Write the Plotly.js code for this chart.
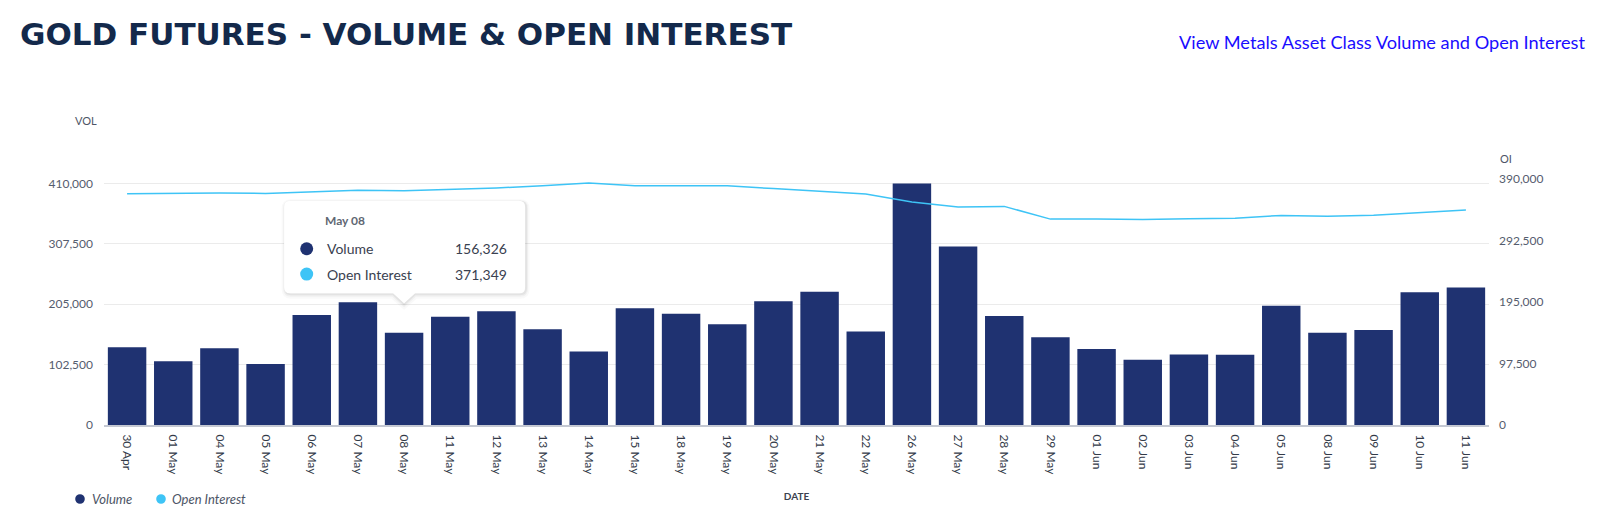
<!DOCTYPE html>
<html>
<head>
<meta charset="utf-8">
<script src="https://cdn.plot.ly/plotly-3.0.1.min.js"></script>
<style>
  html, body { margin: 0; padding: 0; background: #fff; }
</style>
</head>
<body>
<div id="myDiv"></div>

<script>
// trading days on the x axis
var dates = ['30 Apr', '01 May', '04 May', '05 May', '06 May', '07 May', '08 May', '11 May',
             '12 May', '13 May', '14 May', '15 May', '18 May', '19 May', '20 May', '21 May',
             '22 May', '26 May', '27 May', '28 May', '29 May', '01 Jun', '02 Jun', '03 Jun',
             '04 Jun', '05 Jun', '08 Jun', '09 Jun', '10 Jun', '11 Jun'];

// daily volume (left axis)
var volume = [131800, 108000, 130100, 103500, 186600, 208100, 156326, 183800,
              192800, 162500, 124800, 198200, 188600, 171100, 210100, 225900,
              158700, 409800, 302700, 184700, 148800, 128800, 110700, 119700,
              119200, 202200, 156400, 161000, 225300, 233200];

// open interest (right axis)
var openInterest = [366600, 367700, 367900, 367200, 370100, 372300, 371349, 373300,
                    375700, 379400, 383600, 379400, 379300, 379200, 374800, 370400,
                    366100, 353600, 345500, 346600, 326400, 326500, 325600, 326900,
                    327800, 332300, 331000, 332400, 336600, 341000];

var volTicks = [0, 102500, 205000, 307500, 410000];
var oiTicks = [0, 97500, 195000, 292500, 390000];

// the point the tooltip is shown for
var hoverDate = '08 May';
var hoverLabel = 'May 08';

var VOL_COLOR = '#1f3271',
    OI_COLOR = '#3ec4f6',
    TEXT_COLOR = '#4d5566';

var W = 1609, H = 525;
// the OI axis reaches a few pixels higher than the VOL axis, so the plot
// area starts at its top tick and the VOL range runs a little past 410,000
var m = {l: 104, r: 120, t: 179, b: 100};
var volMax = 417300;

var trace1 = {
  x: dates,
  y: volume,
  name: 'Volume',
  type: 'bar',
  marker: {color: VOL_COLOR, line: {width: 0}},
  yaxis: 'y',
  hoverinfo: 'skip'
};

var trace2 = {
  x: dates,
  y: openInterest,
  name: 'Open Interest',
  type: 'scatter',
  mode: 'lines',
  line: {color: OI_COLOR, width: 1.5},
  yaxis: 'y2',
  hoverinfo: 'skip'
};

function fmt(v) { return v.toLocaleString('en-US'); }

// tooltip box with a small notch, in pixels round the anchor point
function boxPath(L, R, T, B, r, nw, tip) {
  return 'M ' + (L + r) + ',' + T +
    ' L ' + (R - r) + ',' + T + ' Q ' + R + ',' + T + ' ' + R + ',' + (T - r) +
    ' L ' + R + ',' + (B + r) + ' Q ' + R + ',' + B + ' ' + (R - r) + ',' + B +
    ' L ' + nw + ',' + B + ' L 0,' + tip + ' L ' + (-nw) + ',' + B +
    ' L ' + (L + r) + ',' + B + ' Q ' + L + ',' + B + ' ' + L + ',' + (B + r) +
    ' L ' + L + ',' + (T - r) + ' Q ' + L + ',' + T + ' ' + (L + r) + ',' + T + ' Z';
}

var idx = dates.indexOf(hoverDate);
var tipL = -120, tipR = 121, tipT = 132, tipB = 39.5;

function tipShape(dx, dy, fill, lineColor, lineWidth) {
  return {
    type: 'path', xref: 'x', yref: 'y',
    xsizemode: 'pixel', ysizemode: 'pixel',
    xanchor: idx, yanchor: volume[idx],
    path: boxPath(tipL + dx, tipR + dx, tipT + dy, tipB + dy, 6, 11, 29.5 + dy),
    fillcolor: fill, line: {color: lineColor, width: lineWidth}
  };
}

function tipDot(cx, cy, color) {
  return {
    type: 'circle', xref: 'x', yref: 'y',
    xsizemode: 'pixel', ysizemode: 'pixel',
    xanchor: idx, yanchor: volume[idx],
    x0: cx - 6.5, x1: cx + 6.5, y0: cy - 6.5, y1: cy + 6.5,
    fillcolor: color, line: {width: 0}
  };
}

function legendDot(cx, color) {
  return {
    type: 'circle', xref: 'paper', yref: 'paper',
    xsizemode: 'pixel', ysizemode: 'pixel',
    xanchor: 0, yanchor: 0,
    x0: cx - 4.8, x1: cx + 4.8, y0: -74 - 4.8, y1: -74 + 4.8,
    fillcolor: color, line: {width: 0}
  };
}

var shapes = [
  tipShape(1, -2, 'rgba(0,0,0,0)', 'rgba(0,0,0,0.025)', 7),
  tipShape(1, -1.5, 'rgba(0,0,0,0)', 'rgba(0,0,0,0.035)', 4),
  tipShape(1, -1, 'rgba(0,0,0,0)', 'rgba(0,0,0,0.05)', 2),
  tipShape(0, 0, '#ffffff', 'rgba(255,255,255,0)', 0),
  tipDot(-97.4, 84.1, VOL_COLOR),
  tipDot(-97.4, 58.8, OI_COLOR),
  legendDot(-24, VOL_COLOR),
  legendDot(57, OI_COLOR)
];

function tipText(text, xshift, yshift, anchor, font) {
  return {
    xref: 'x', yref: 'y', x: idx, y: volume[idx],
    xshift: xshift, yshift: yshift,
    xanchor: anchor, yanchor: 'middle',
    text: text, showarrow: false, font: font
  };
}

var labelFont = {family: 'Lato, sans-serif', size: 14, color: '#3a4150'};

var annotations = [
  // link at top right
  {xref: 'paper', yref: 'paper', x: 1, y: 1, xshift: 1587 - (W - m.r), yshift: (m.t - 41.5),
   xanchor: 'right', yanchor: 'middle', showarrow: false,
   text: 'View Metals Asset Class Volume and Open Interest',
   font: {family: 'Lato, sans-serif', size: 18.2, color: '#1a0dff'}},
  // axis names above the axes
  {xref: 'paper', yref: 'paper', x: 0, y: 1, xshift: -18.5, yshift: m.t - 120.7,
   xanchor: 'center', yanchor: 'middle', showarrow: false, text: 'VOL',
   font: {family: 'Lato, sans-serif', size: 11, color: TEXT_COLOR}},
  {xref: 'paper', yref: 'paper', x: 1, y: 1, xshift: 8.7, yshift: m.t - 158.3,
   xanchor: 'left', yanchor: 'middle', showarrow: false, text: 'OI',
   font: {family: 'Lato, sans-serif', size: 11, color: TEXT_COLOR}},
  // legend
  {xref: 'paper', yref: 'paper', x: 0, y: 0, xshift: -14, yshift: -74,
   xanchor: 'left', yanchor: 'middle', showarrow: false, text: '<i>Volume</i>',
   font: {family: 'Lato, sans-serif', size: 13, color: TEXT_COLOR}},
  {xref: 'paper', yref: 'paper', x: 0, y: 0, xshift: 66, yshift: -74,
   xanchor: 'left', yanchor: 'middle', showarrow: false, text: '<i>Open Interest</i>',
   font: {family: 'Lato, sans-serif', size: 13, color: TEXT_COLOR}},
  // tooltip texts
  tipText('<b>' + hoverLabel + '</b>', -81, 112.8, 'left',
          {family: 'Lato, sans-serif', size: 12, color: '#5f6773'}),
  tipText('Volume', -79, 84.1, 'left', labelFont),
  tipText('Open Interest', -79, 58.8, 'left', labelFont),
  tipText(fmt(volume[idx]), 105, 84.1, 'right', labelFont),
  tipText(fmt(openInterest[idx]), 105, 58.8, 'right', labelFont)
];

var layout = {
  width: W, height: H,
  margin: {l: m.l, r: m.r, t: m.t, b: m.b, pad: 0},
  paper_bgcolor: '#ffffff',
  plot_bgcolor: '#ffffff',
  font: {family: 'Lato, sans-serif', color: TEXT_COLOR},
  showlegend: false,
  hovermode: false,
  bargap: 0.167,
  title: {
    text: 'GOLD FUTURES - VOLUME &amp; OPEN INTEREST',
    xref: 'container', yref: 'container',
    x: 20 / W, xanchor: 'left',
    y: 1 - 34 / H, yanchor: 'middle',
    font: {family: 'DejaVu Sans, sans-serif', size: 31, weight: 700, color: '#13294b'}
  },
  xaxis: {
    type: 'category',
    tickangle: 90,
    ticks: '',
    ticklabelstandoff: 5,
    tickfont: {family: 'Lato, sans-serif', size: 12, color: '#333a48'},
    showline: true, linecolor: '#c4c8d2', linewidth: 2,
    showgrid: false, zeroline: false,
    automargin: false,
    title: {text: '<b>DATE</b>', font: {family: 'Lato, sans-serif', size: 10, color: '#3c4250'}, standoff: 19}
  },
  yaxis: {
    range: [0, volMax],
    tickmode: 'array', tickvals: volTicks,
    ticktext: volTicks.map(fmt),
    ticks: '', ticklabelstandoff: 10,
    tickfont: {family: 'Lato, sans-serif', size: 12, color: '#555d6e'},
    gridcolor: '#ebebeb', gridwidth: 1,
    zeroline: false, showline: false,
    automargin: false
  },
  yaxis2: {
    overlaying: 'y', side: 'right',
    range: [0, oiTicks[oiTicks.length - 1]],
    tickmode: 'array', tickvals: oiTicks,
    ticktext: oiTicks.map(fmt),
    ticks: '', ticklabelstandoff: 9,
    tickfont: {family: 'Lato, sans-serif', size: 12, color: '#555d6e'},
    showgrid: false, zeroline: false, showline: false,
    automargin: false
  },
  shapes: shapes,
  annotations: annotations
};

Plotly.newPlot('myDiv', [trace1, trace2], layout, {displayModeBar: false, staticPlot: true});
</script>
</body>
</html>
